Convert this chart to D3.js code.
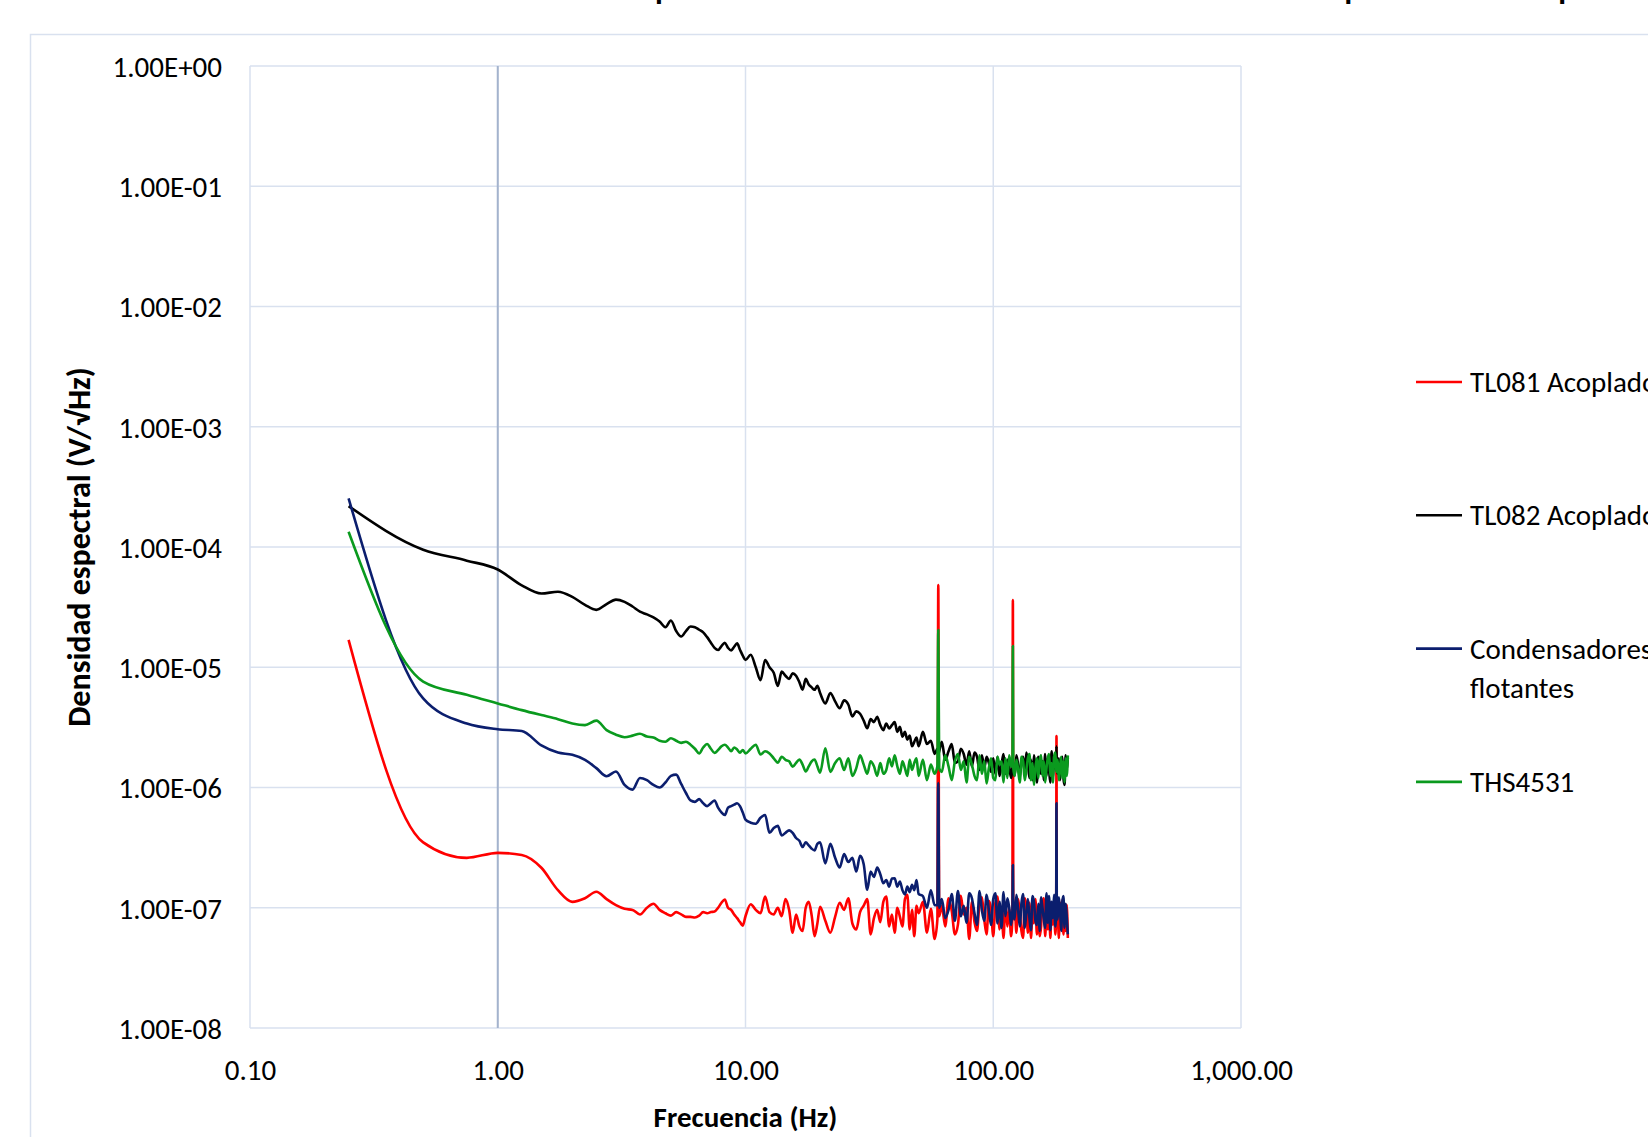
<!DOCTYPE html>
<html>
<head>
<meta charset="utf-8">
<script src="https://cdn.jsdelivr.net/npm/d3@7"></script>
<style>
  body { margin: 0; background: #fff; }
  svg { display: block; font-family: Carlito, Calibri, Lato, sans-serif; }
</style>
</head>
<body>
<div id="chart"></div>
<script>
// frequency bins (Hz), shared by the four measurements
const freq = [
  0.25, 0.5, 0.75, 1, 1.25, 1.5, 1.75, 2, 2.25, 2.5, 2.75, 3, 3.25, 3.5, 3.75, 4, 4.25, 4.5, 4.75, 5,
  5.25, 5.5, 5.75, 6, 6.25, 6.5, 6.75, 7, 7.25, 7.5, 7.75, 8, 8.25, 8.5, 8.75, 9, 9.25, 9.5, 9.75, 10,
  10.5, 11, 11.5, 12, 12.5, 13, 13.5, 14, 14.5, 15, 15.5, 16, 16.5, 17, 17.5, 18, 18.5, 19, 19.5, 20,
  21, 22, 23, 24, 25, 26, 27, 28, 29, 30,
  31, 32, 33, 34, 35, 36, 37, 38, 39, 40,
  41, 42, 43, 44, 45, 46, 47, 48, 49, 50,
  52, 54, 56, 58, 59.5, 60, 60.5, 62, 64, 66, 68, 70,
  72, 74, 76, 78, 80, 82, 84, 86, 88, 90,
  92, 94, 96, 98, 100, 102, 104, 106, 108, 110,
  112, 114, 116, 118, 119.5, 120, 120.5, 122, 124, 126, 128, 130,
  132, 134, 136, 138, 140, 142, 144, 146, 148, 150,
  152, 154, 156, 158, 160, 162, 164, 166, 168, 170,
  172, 174, 176, 178, 179.5, 180, 180.5, 182, 184, 186, 188, 190,
  192, 194, 196, 198, 200
];

// spectral density, nV/sqrt(Hz)
const tl081 = [
  16900, 350, 260, 286, 275, 215, 140, 112, 120, 136, 118, 105, 98, 96, 88, 100, 108, 96, 90, 86,
  92, 88, 84, 84, 83, 86, 92, 90, 92, 93, 100, 110, 117, 100, 96, 88, 82, 76, 71, 85,
  107, 96, 90, 124, 92, 88, 100, 85, 118, 96, 62, 88, 70, 64, 100, 112, 86, 58, 74, 102,
  78, 62, 84, 110, 96, 120, 74, 66, 92, 104,
  118, 60, 82, 96, 76, 112, 124, 70, 88, 62,
  100, 84, 70, 118, 128, 66, 96, 58, 104, 90,
  112, 62, 98, 55, 80, 48300, 85, 104, 70, 120, 94, 60,
  72, 126, 88, 100, 55, 112, 76, 64, 108, 122,
  80, 60, 114, 96, 58, 110, 124, 66, 102, 56,
  110, 70, 98, 58, 85, 36200, 80, 106, 62, 118, 90, 64,
  56, 120, 104, 62, 110, 56, 96, 74, 118, 60,
  100, 58, 70, 112, 120, 58, 94, 66, 114, 56,
  104, 72, 112, 60, 90, 2680, 80, 98, 56, 110, 68, 116,
  60, 102, 64, 106, 56
];

const tl082 = [
  219000, 95000, 77000, 65000, 48000, 41000, 42500, 38500, 33000, 30000, 33500, 36500, 35000, 32000, 29000, 27500, 26000, 24000, 21500, 24500,
  20000, 18000, 20000, 21800, 21500, 20500, 19500, 17800, 16000, 14500, 13900, 15000, 16000, 14500, 13800, 14800, 15800, 14000, 12500, 11500,
  12700, 10000, 7800, 11500, 10000, 9000, 7000, 9200, 8500, 8000, 8900, 8500, 7500, 6500, 8000, 7200, 6800, 6500, 7000, 6100,
  5000, 6100, 5200, 4560, 5300, 4900, 3900, 4300, 4100, 3600,
  3110, 3700, 3500, 3880, 3300, 3000, 3400, 3100, 3300, 3500,
  2900, 3200, 2640, 2900, 2500, 2700, 2200, 2400, 2600, 2200,
  2900, 2300, 2450, 1900, 2100, 1900, 2000, 2400, 1700, 2000, 2300, 1600,
  1650, 2100, 1900, 1550, 2000, 1500, 1950, 1800, 1400, 1850,
  1450, 1800, 1600, 1350, 1750, 1300, 1800, 1250, 1550, 1900,
  1300, 1700, 1500, 1200, 1450, 1500, 1400, 1250, 1850, 1550, 1200, 1700,
  1800, 1300, 1950, 1600, 1200, 1700, 1150, 1850, 1450, 1100,
  1800, 1500, 1300, 1650, 1150, 1900, 1250, 1750, 1400, 1100,
  2000, 1200, 1700, 1450, 1500, 2200, 1450, 1300, 1750, 1150, 1600, 1800,
  1200, 1050, 1850, 1400, 1750
];

const flotantes = [
  254000, 5500, 3400, 3050, 2950, 2240, 1950, 1870, 1700, 1450, 1240, 1360, 1050, 960, 1200, 1150, 1050, 1000, 1100, 1250,
  1280, 1070, 900, 780, 760, 800, 740, 700, 740, 780, 680, 620, 590, 680, 700, 720, 740, 700, 620, 540,
  510, 500, 560, 590, 420, 460, 480, 400, 420, 440, 420, 380, 360, 320, 350, 330, 310, 300, 340, 350,
  234, 340, 260, 216, 280, 240, 260, 200, 270, 230,
  141, 200, 180, 216, 190, 160, 170, 150, 175, 176,
  150, 165, 140, 129, 150, 135, 155, 140, 170, 130,
  125, 100, 140, 105, 105, 1090, 100, 118, 82, 96, 130, 78,
  138, 85, 104, 75, 132, 120, 90, 72, 138, 95,
  78, 128, 96, 72, 118, 132, 74, 112, 68, 135,
  85, 120, 100, 72, 95, 227, 90, 80, 128, 96, 70, 110,
  130, 68, 90, 118, 82, 65, 125, 112, 78, 72,
  108, 64, 122, 100, 80, 68, 132, 75, 125, 65,
  112, 82, 128, 70, 95, 740, 90, 80, 122, 98, 64, 112,
  125, 68, 108, 84, 60
];

const ths4531 = [
  134000, 7600, 5900, 5000, 4400, 4000, 3700, 3400, 3300, 3600, 3000, 2750, 2620, 2700, 2800, 2650, 2600, 2450, 2400, 2570,
  2450, 2350, 2400, 2270, 2100, 1920, 2150, 2300, 2100, 1940, 2050, 2200, 2270, 2150, 2000, 2150, 2070, 1950, 2050, 1920,
  2100, 2270, 1880, 2000, 1920, 1750, 1610, 1800, 1700, 1650, 1490, 1600, 1710, 1550, 1360, 1500, 1650, 1710, 1500, 1330,
  2120, 1350, 1600, 1750, 1400, 1750, 1250, 1450, 1850, 1550,
  1300, 1650, 1500, 1250, 1600, 1300, 1400, 1750, 1500, 1850,
  1500, 1300, 1650, 1450, 1250, 1700, 1400, 1600, 1750, 1250,
  1700, 1150, 1550, 1300, 1500, 20400, 1450, 1350, 1850, 1500, 1150, 1650,
  1900, 1400, 1650, 1100, 1800, 1550, 1250, 1150, 1850, 1300,
  1650, 1080, 1450, 1750, 1200, 1150, 1800, 1550, 1650, 1100,
  1750, 1200, 1850, 1500, 1500, 15000, 1450, 1250, 1700, 1400, 1100, 1800,
  1650, 1150, 1400, 1750, 1900, 1150, 1600, 1050, 1450, 1750,
  1200, 1700, 1850, 1250, 1650, 1100, 1450, 1750, 1900, 1250,
  1600, 1100, 1800, 1950, 1450, 1350, 1500, 1700, 1150, 1450, 1800, 1200,
  1650, 1100, 1750, 1250, 1850
];

const seriesNames = ["TL081 Acoplado en AC", "TL082 Acoplado en AC", "Condensadores flotantes", "THS4531"];
const seriesColors = ["#ff0000", "#000000", "#0b1e6e", "#0a9a1e"];
const seriesValues = [tl081, tl082, flotantes, ths4531];

const xTicks = [0.1, 1, 10, 100, 1000];
const yTicks = [1, 1e-1, 1e-2, 1e-3, 1e-4, 1e-5, 1e-6, 1e-7, 1e-8];

const titleText = "Densidad espectral del ruido obtenido con los cuatro esquemas de amplificación";

const nV = 1e-9;

// set the dimensions and margins of the graph
const W = 1648, H = 1137;
const margin = {top: 66, right: 407, bottom: 109, left: 250},
    width = W - margin.left - margin.right,
    height = H - margin.top - margin.bottom;

const svg = d3.select("#chart")
  .append("svg")
    .attr("width", W)
    .attr("height", H);

// chart area border (runs off the page to the right and bottom)
svg.append("rect")
  .attr("x", 30.5).attr("y", 34.5)
  .attr("width", W).attr("height", H)
  .attr("fill", "#fff")
  .attr("stroke", "#d9e1ef")
  .attr("stroke-width", 1.5);

// title, only the descenders reach into the picture
const title = svg.append("text")
  .attr("y", -1)
  .style("font-size", "32px")
  .style("font-weight", "bold")
  .text(titleText);
{
  const node = title.node();
  const i1 = titleText.indexOf("p"), i2 = titleText.indexOf("q");
  const gap = node.getSubStringLength(i1, i2 - i1);
  title.attr("letter-spacing", (680 - gap) / (i2 - i1));
  title.attr("x", 655 - node.getSubStringLength(0, i1));
}

const g = svg.append("g")
  .attr("transform", `translate(${margin.left},${margin.top})`);

// scales
const x = d3.scaleLog().domain([0.1, 1000]).range([0, width]);
const y = d3.scaleLog().domain([1e-8, 1]).range([height, 0]);

// gridlines
g.append("g")
  .selectAll("line")
  .data(yTicks)
  .join("line")
    .attr("x1", 0).attr("x2", width)
    .attr("y1", d => y(d)).attr("y2", d => y(d))
    .attr("stroke", "#d9e1ef")
    .attr("stroke-width", 1.5);

g.append("g")
  .selectAll("line")
  .data(xTicks)
  .join("line")
    .attr("x1", d => x(d)).attr("x2", d => x(d))
    .attr("y1", 0).attr("y2", height)
    .attr("stroke", "#d9e1ef")
    .attr("stroke-width", 1.5);

// vertical axis crosses at 1 Hz
g.append("line")
  .attr("x1", x(1)).attr("x2", x(1))
  .attr("y1", 0).attr("y2", height)
  .attr("stroke", "#a4b3cd")
  .attr("stroke-width", 2);

// Y axis labels
const fmtE = v => {
  const e = Math.round(Math.log10(v));
  const m = v / Math.pow(10, e);
  return m.toFixed(2) + "E" + (e < 0 ? "-" : "+") + String(Math.abs(e)).padStart(2, "0");
};

const yAxis = g.append("g")
  .call(d3.axisLeft(y).tickValues(yTicks).tickFormat(fmtE).tickSize(0).tickPadding(28));
yAxis.select(".domain").remove();
yAxis.selectAll("text")
  .attr("dy", "0.36em")
  .style("font-family", "Carlito, Calibri, Lato, sans-serif")
  .style("font-size", "29px")
  .attr("fill", "#000");

// X axis labels
const xAxis = g.append("g")
  .attr("transform", `translate(0,${height})`)
  .call(d3.axisBottom(x).tickValues(xTicks).tickFormat(d3.format(",.2f")).tickSize(0).tickPadding(31));
xAxis.select(".domain").remove();
xAxis.selectAll("text")
  .style("font-family", "Carlito, Calibri, Lato, sans-serif")
  .style("font-size", "29px")
  .attr("fill", "#000");

// axis titles
g.append("text")
  .attr("x", width / 2)
  .attr("y", height + 89)
  .attr("text-anchor", "middle")
  .attr("dominant-baseline", "central")
  .style("font-size", "29px")
  .style("font-weight", "bold")
  .text("Frecuencia (Hz)");

g.append("text")
  .attr("transform", `translate(${79 - margin.left},${height / 2}) rotate(-90)`)
  .attr("text-anchor", "middle")
  .attr("dominant-baseline", "central")
  .style("font-size", "32px")
  .style("font-weight", "bold")
  .text("Densidad espectral (V/√Hz)");

// lines
const line = d3.line()
  .x(d => x(d[0]))
  .y(d => y(d[1] * nV))
  .curve(d3.curveMonotoneX);

g.append("g")
  .selectAll("path")
  .data(seriesValues)
  .join("path")
    .attr("d", vals => line(freq.map((f, i) => [f, vals[i]])))
    .attr("fill", "none")
    .attr("stroke", (d, i) => seriesColors[i])
    .attr("stroke-width", 2.6)
    .attr("stroke-linejoin", "round");

// legend
const legendX = 1416, legendTop = 382, legendStep = 133.3;
const legend = svg.append("g");
legend.selectAll("line")
  .data(seriesNames)
  .join("line")
    .attr("x1", legendX).attr("x2", legendX + 46)
    .attr("y1", (d, i) => legendTop + i * legendStep)
    .attr("y2", (d, i) => legendTop + i * legendStep)
    .attr("stroke", (d, i) => seriesColors[i])
    .attr("stroke-width", 2.6);

legend.selectAll("text")
  .data(seriesNames)
  .join("text")
    .attr("x", legendX + 54)
    .attr("y", (d, i) => legendTop + i * legendStep)
    .attr("dominant-baseline", "central")
    .style("font-size", "29px")
    .each(function(d) {
      const words = d === "Condensadores flotantes" ? ["Condensadores", "flotantes"] : [d];
      d3.select(this).selectAll("tspan")
        .data(words)
        .join("tspan")
          .attr("x", legendX + 54)
          .attr("dy", (w, j) => j === 0 ? 0 : 39)
          .text(w => w);
    });
</script>
</body>
</html>
